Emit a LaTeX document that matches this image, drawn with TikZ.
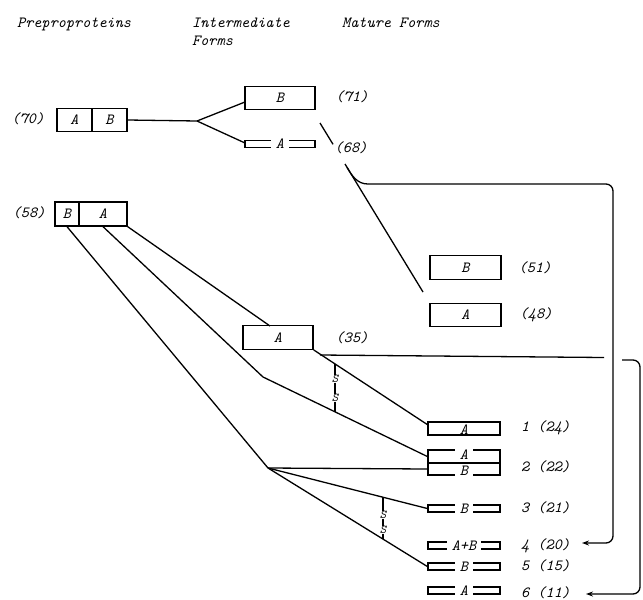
\documentclass[tikz,border=0pt]{standalone}
\usepackage{fontspec}
\usetikzlibrary{arrows.meta}
\begin{document}
\begin{tikzpicture}[x=1pt,y=-1pt,
  every node/.style={font=\fontsize{15.5}{17}\selectfont\ttfamily\itshape, inner sep=0pt},
  ln/.style={line width=1.3pt},
  arr/.style={-{Stealth[length=7pt,width=5pt]}},
  pbox/.style={draw, line width=1.3pt, minimum width=#1, minimum height=23.5pt},
  thinbox/.style={draw, line width=1.3pt, minimum width=#1, minimum height=7pt},
  lett/.style={fill=white, inner xsep=5pt, inner ysep=0.8pt},
  ssl/.style={fill=white, inner sep=0.6pt, font=\fontsize{12}{12}\selectfont\ttfamily\itshape}]
\useasboundingbox (0,0) rectangle (643,600);

% headers
\node[anchor=base west] (h1) at (17,27) {Preproproteins};
\node[anchor=base west] (h2) at (192,27) {Intermediate};
\node[anchor=base west] (h3) at (192,45) {Forms};
\node[anchor=base west] (h4) at (342,27) {Mature Forms};

% preproprotein (70)
\node[pbox=35pt] (a70) at (74.5,120) {A};
\node[pbox=35pt] (b70) at (109.5,120) {B};
\node (l70) at (28,119) {(70)};

% intermediates from (70)
\node[pbox=70pt] (b71) at (280,98) {B};
\node (l71) at (352,97) {(71)};
\node[thinbox=70pt] (a68) at (280,144) {};
\node[lett] (ta68) at (280,144) {A};

\coordinate (br70) at (197,121);
\coordinate (c71) at (245,102);
\coordinate (c68) at (245,143);
\draw[ln] (b70.east) -- (br70);
\draw[ln] (br70) -- (c71);
\draw[ln] (br70) -- (c68);

% line to mature forms, broken by label (68)
\coordinate (s68) at (320,123);
\coordinate (g1) at (333,144.3);
\coordinate (g2) at (345,164);
\coordinate (e68) at (423,292);
\draw[ln] (s68) -- (g1);
\draw[ln] (g2) -- (e68);
\node (l68) at (351,148) {(68)};

% mature forms
\node[pbox=71pt] (m51) at (465.5,267.5) {B};
\node (l51) at (535,268) {(51)};
\node[pbox=71pt] (m48) at (465.5,315) {A};
\node (l48) at (536,315) {(48)};

% preproprotein (58)
\node[pbox=24pt, minimum height=24pt] (b58) at (67,214) {B};
\node[pbox=48pt, minimum height=24pt] (a58) at (103,214) {A};
\node (l58) at (29,213) {(58)};

% intermediate (35)
\node[pbox=70pt] (a35) at (278,337.5) {A};
\node (l35) at (352,338) {(35)};

% small mature products
\node[draw, line width=1.3pt, minimum width=72pt, minimum height=13pt] (m1) at (464,428.5) {};
\node (tm1) at (464,430) {A};
\node[draw, line width=1.3pt, minimum width=72pt, minimum height=13pt] (m2a) at (464,456.5) {};
\node[draw, line width=1.3pt, minimum width=72pt, minimum height=12pt] (m2b) at (464,469) {};
\node[lett] (tm2a) at (464,454.5) {A};
\node[lett] (tm2b) at (464,470.5) {B};
\node[thinbox=72pt] (m3) at (464,508.5) {};
\node[lett] (tm3) at (464,508.5) {B};
\node[thinbox=72pt] (m4) at (464,545.5) {};
\node[lett] (tm4) at (464,545.5) {A+B};
\node[thinbox=72pt] (m5) at (464,566.5) {};
\node[lett] (tm5) at (464,566.5) {B};
\node[thinbox=72pt] (m6) at (464,590.5) {};
\node[lett] (tm6) at (464,590.5) {A};

\node[anchor=west] (n1) at (521,428) {1 (24)};
\node[anchor=west] (n2) at (521,467) {2 (22)};
\node[anchor=west] (n3) at (521,508) {3 (21)};
\node[anchor=west] (n4) at (521,546) {4 (20)};
\node[anchor=west] (n5) at (521,566) {5 (15)};
\node[anchor=west] (n6) at (521,593) {6 (11)};

% connectors from (58)
\coordinate (hub) at (268,468);
\coordinate (knee) at (263,377);
\coordinate (t35) at (270,326);
\coordinate (t1) at (428,425);
\draw[ln] (b58.south) -- (hub);
\draw[ln] (a58.south) -- (knee) -- (m2a.west);
\draw[ln] (a58.south east) -- (t35);
\draw[ln] (a35.south east) -- (t1);
\draw[ln] (hub) -- (m2b.west);
\draw[ln] (hub) -- (m3.west);
\draw[ln] (hub) -- (m5.west);

% disulfide bonds
\coordinate (ss1a) at (335,363.5);
\coordinate (ss1b) at (335,411.7);
\draw[ln] (ss1a) -- (ss1b);
\node[ssl] (s1a) at (335,379) {S};
\node[ssl] (s1b) at (335,398) {S};
\coordinate (ss2a) at (383,497.1);
\coordinate (ss2b) at (383,538.8);
\draw[ln] (ss2a) -- (ss2b);
\node[ssl] (s2a) at (383,515) {S};
\node[ssl] (s2b) at (383,530) {S};

% bracket from (35) to 6 (11)
\coordinate (j2) at (320,355);
\coordinate (k2a) at (604,357.5);
\coordinate (k2b) at (622,360);
\coordinate (t11) at (586,594);
\draw[ln] (j2) -- (k2a);
\draw[ln, arr, rounded corners=7pt] (k2b) -- (640,360) -- (640,594) -- (t11);

% bracket from (68) line to 4 (20)
\coordinate (j1) at (347,167.3);
\coordinate (k1) at (368,184);
\coordinate (t20) at (582,543);
\draw[ln] (j1) to[out=-60,in=180] (k1);
\draw[ln, arr, rounded corners=7pt] (k1) -- (613,184) -- (613,543) -- (t20);
\end{tikzpicture}
\end{document}
